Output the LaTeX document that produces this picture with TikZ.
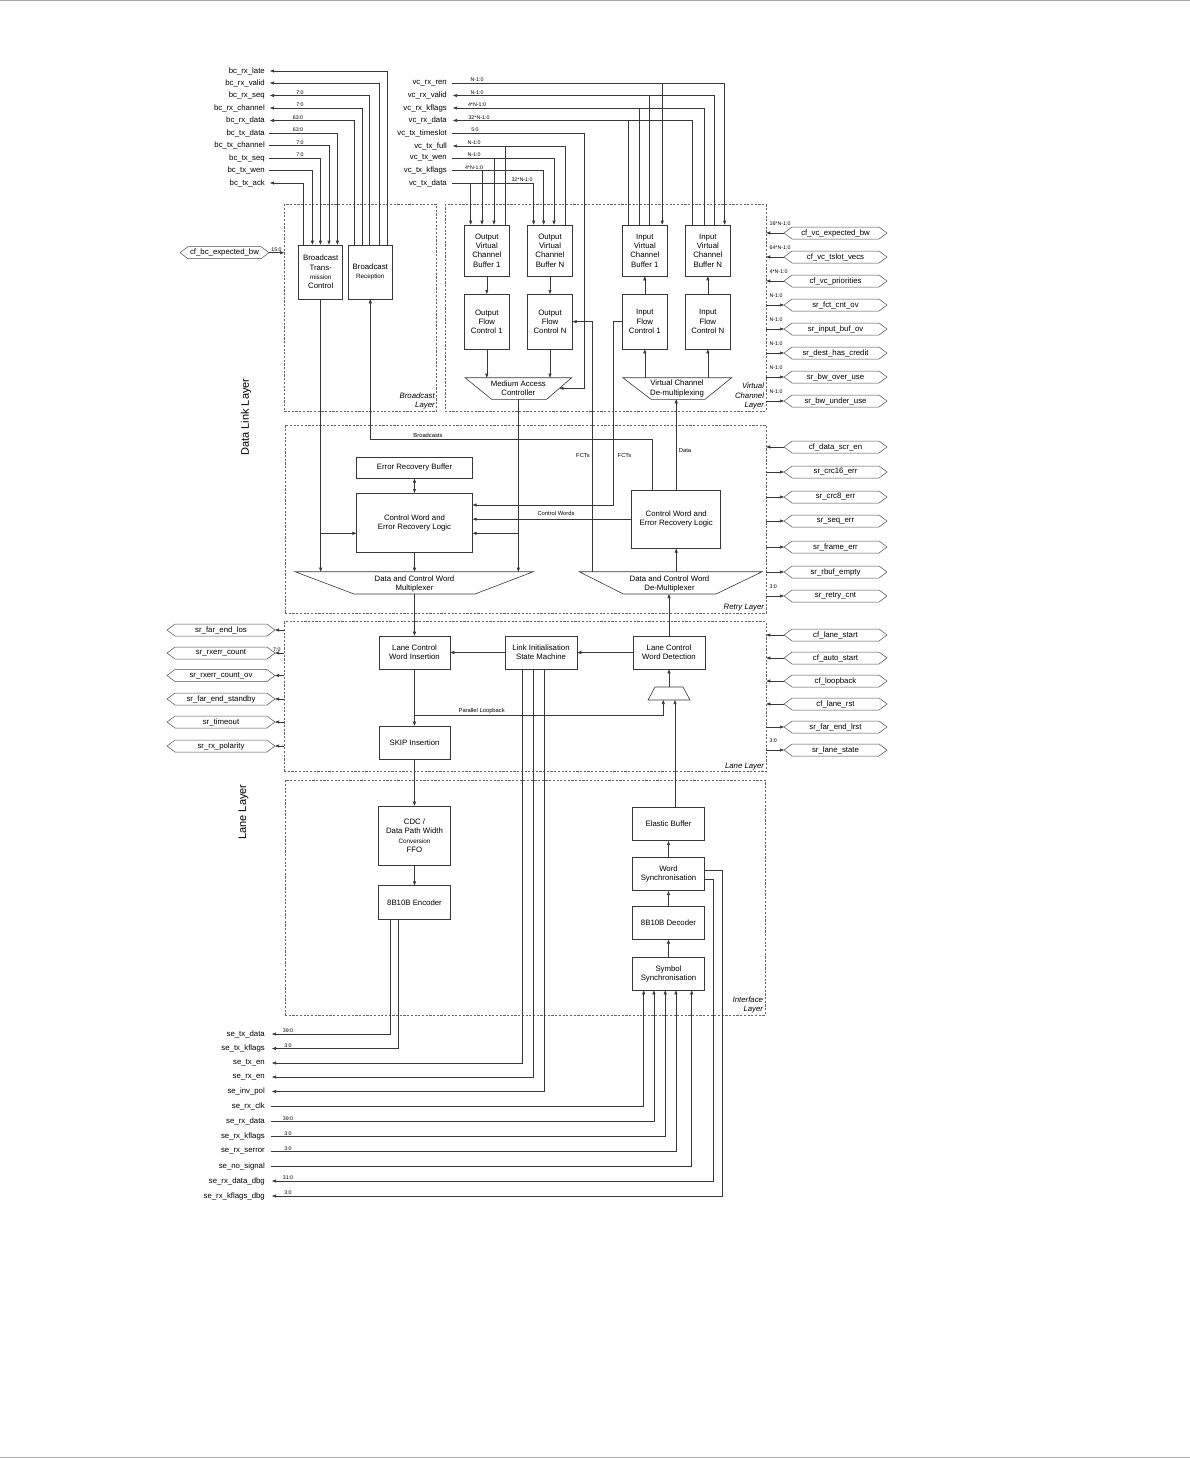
\documentclass[tikz,border=0pt]{standalone}
\usepackage{fontspec}
\setmainfont{Liberation Sans}
\usetikzlibrary{arrows.meta}
\newcommand\fsig{\fontsize{7.8}{9}\selectfont}
\newcommand\fblk{\fontsize{7.8}{9.3}\selectfont}
\newcommand\fsml{\fontsize{6.3}{8}\selectfont}
\newcommand\fbus{\fontsize{5.3}{6}\selectfont}
\newcommand\fnote{\fontsize{5.8}{7}\selectfont}
\tikzset{
  wire/.style={draw=black!78, line width=0.6pt},
  arr/.style={wire, -{Triangle[length=4pt,width=3pt]}},
  darr/.style={wire, {Triangle[length=4pt,width=3pt]}-{Triangle[length=4pt,width=3pt]}},
  blk/.style={draw=black!78, line width=0.6pt, fill=white, align=center, inner sep=0pt, font=\fblk},
  trap/.style={draw=black!78, line width=0.6pt, fill=white},
  ttext/.style={align=center, inner sep=0pt, font=\fblk},
  layer/.style={draw=black!60, line width=0.5pt, dash pattern=on 2.2pt off 1.5pt, inner sep=0pt},
  lyrlbl/.style={font=\fblk\itshape, align=right, anchor=south east, inner sep=2pt},
  sig/.style={font=\fsig, inner sep=0pt},
  hexs/.style={draw=black!70, line width=0.5pt, fill=white},
  bus/.style={font=\fbus, inner sep=0pt, anchor=south},
  busr/.style={font=\fbus, inner sep=0pt, anchor=south west},
  note/.style={font=\fnote, inner sep=0pt},
  frame/.style={draw=black!35, line width=1pt},
  side/.style={font=\fontsize{11}{13}\selectfont, rotate=90, inner sep=0pt},
}
\newcommand\boxat[6]{\node[#1, minimum width={#4-#2}, minimum height={#5-#3}] (#6) at ({(#2+#4)/2},{(#3+#5)/2})}
\newcommand\hexsig[5]{%
  \coordinate (#1-l) at ({#2-#4},#3);
  \coordinate (#1-r) at ({#2+#4},#3);
  \draw[hexs] (#1-l) -- ({#2-#4+8},{#3-6}) -- ({#2+#4-8},{#3-6}) -- (#1-r) -- ({#2+#4-8},{#3+6}) -- ({#2-#4+8},{#3+6}) -- cycle;
  \node[sig] (#1) at (#2,#3) {#5};}
% right-hand signals: name, y, text, bus label, layer
\newcommand\rin[5]{\hexsig{#1}{835.5}{#2}{51.5}{#3}%
  \draw[arr] (#1-l) -- (#1-l -| #5.east) node[busr, pos=1, xshift=3pt, yshift=7pt] (#1-b) {#4};}
\newcommand\rout[5]{\hexsig{#1}{835.5}{#2}{51.5}{#3}%
  \draw[arr] (#1-l -| #5.east) -- (#1-l) node[busr, pos=0, xshift=3pt, yshift=7pt] (#1-b) {#4};}
\newcommand\lout[4]{\hexsig{#1}{221}{#2}{54}{#3}%
  \draw[arr] (#1-r -| lnl.west) -- (#1-r) node[bus, pos=0.78, yshift=1pt] (#1-b) {#4};}
\newcommand\lbl[4]{\node[sig, anchor=east] (#1) at (#2,#3) {#4};}
\begin{document}
\begin{tikzpicture}[x=1pt,y=-1pt]
\useasboundingbox (0,0) rectangle (1190,1458);
\draw[frame] (0,1) -- (1190,1);
\draw[frame] (0,1457) -- (1190,1457);

% ---------- layers ----------
\boxat{layer}{284.3}{204.7}{436.7}{411}{bcl} {};
\boxat{layer}{445}{204.7}{766}{411}{vcl} {};
\boxat{layer}{285}{425}{766}{613.3}{rtl} {};
\boxat{layer}{284}{621.7}{766}{771.7}{lnl} {};
\boxat{layer}{285}{780}{765}{1015}{ifl} {};
\node[lyrlbl] (bcl-t) at (bcl.south east) {Broadcast\\Layer};
\node[lyrlbl] (vcl-t) at (vcl.south east) {Virtual\\Channel\\Layer};
\node[lyrlbl] (rtl-t) at (rtl.south east) {Retry Layer};
\node[lyrlbl] (lnl-t) at (lnl.south east) {Lane Layer};
\node[lyrlbl] (ifl-t) at (ifl.south east) {Interface\\Layer};
\node[side] (dll) at (246,417) {Data Link Layer};
\node[side] (lal) at (243.5,812) {Lane Layer};

% ---------- broadcast layer ----------
\boxat{blk}{298.7}{245}{342.7}{299}{btc} {Broadcast\\Trans-\\{\fsml mission}\\Control};
\boxat{blk}{348.3}{245}{392.3}{299}{br} {Broadcast\\{\fsml Reception}};

% ---------- VC layer ----------
\boxat{blk}{464.3}{225}{509.3}{276}{ovb1} {Output\\Virtual\\Channel\\Buffer 1};
\boxat{blk}{527.7}{225}{572.3}{276}{ovbn} {Output\\Virtual\\Channel\\Buffer N};
\boxat{blk}{622.3}{225}{667.3}{276}{ivb1} {Input\\Virtual\\Channel\\Buffer 1};
\boxat{blk}{685.7}{225}{730}{276}{ivbn} {Input\\Virtual\\Channel\\Buffer N};
\boxat{blk}{464.3}{294.3}{509.3}{349}{ofc1} {Output\\Flow\\Control 1};
\boxat{blk}{527.7}{294.3}{572.3}{349}{ofcn} {Output\\Flow\\Control N};
\boxat{blk}{622.3}{294.3}{667.3}{349}{ifc1} {Input\\Flow\\Control 1};
\boxat{blk}{685.7}{294.3}{730}{349}{ifcn} {Input\\Flow\\Control N};
\draw[trap] (465,377.7) -- (571.7,377.7) -- (546.7,399.3) -- (491.7,399.3) -- cycle;
\node[ttext] (mac) at (518.3,388.5) {Medium Access\\Controller};
\coordinate (mac-t) at (518.3,377.7);
\coordinate (mac-b) at (518.3,399.3);
\coordinate (mac-r) at (559.4,388.3);
\draw[trap] (622.7,377.7) -- (731.7,377.7) -- (705,399.3) -- (651,399.3) -- cycle;
\node[ttext] (vdm) at (677,388.5) {Virtual Channel\\De-multiplexing};
\coordinate (vdm-t) at (677,377.7);
\coordinate (vdm-b) at (676,399.3);
\draw[arr] (ovb1.south) -- (ofc1.north);
\draw[arr] (ovbn.south) -- (ofcn.north);
\draw[arr] (ifc1.north) -- (ivb1.south);
\draw[arr] (ifcn.north) -- (ivbn.south);
\draw[arr] (ofc1.south) -- (ofc1.south |- mac-t);
\draw[arr] (ofcn.south) -- (ofcn.south |- mac-t);
\draw[arr] (ifc1.south |- vdm-t) -- (ifc1.south);
\draw[arr] (ifcn.south |- vdm-t) -- (ifcn.south);

% ---------- retry layer ----------
\boxat{blk}{356.7}{457.3}{472.3}{478.3}{erb} {Error Recovery Buffer};
\boxat{blk}{356.7}{493.3}{472.3}{552.7}{cwl} {Control Word and\\Error Recovery Logic};
\boxat{blk}{631.7}{490}{720.7}{548.3}{cwr} {Control Word and\\Error Recovery Logic};
\draw[trap] (295,571.7) -- (533.3,571.7) -- (475,594) -- (354,594) -- cycle;
\node[ttext] (mux) at (414.5,584) {Data and Control Word\\Multiplexer};
\coordinate (mux-t) at (414.5,571.7);
\coordinate (mux-b) at (414.5,594);
\draw[trap] (579.3,571.7) -- (762.3,571.7) -- (716,594) -- (623.3,594) -- cycle;
\node[ttext] (dmx) at (669.5,584) {Data and Control Word\\De-Multiplexer};
\coordinate (dmx-t) at (669,571.7);
\coordinate (dmx-b) at (669,594);
\draw[darr] (erb.south) -- (cwl.north);
\draw[arr] (cwl.south) -- (cwl.south |- mux-t);
% broadcast transmission path
\coordinate (cwl-in3) at ([yshift=-10.3pt]cwl.west);
\draw[arr] (btc.south) -- (btc.south |- mux-t);
\draw[arr] (btc.south |- cwl-in3) -- (cwl-in3);
% MAC output path
\coordinate (cwl-in3r) at ([yshift=-10.3pt]cwl.east);
\draw[arr] (mac-b) -- (mac-b |- mux-t);
\draw[arr] (mac-b |- cwl-in3r) -- (cwl-in3r);
% FCTs from input flow control
\coordinate (cwl-in1) at ([yshift=18pt]cwl.east);
\coordinate (fct1) at (613.3,505);
\draw[arr] (ifc1.west) -| (fct1) -- (cwl-in1);
% control words
\draw[arr] (cwr.west) -- (cwr.west -| cwl.east);
% FCTs to output flow control
\coordinate (fct2) at (592.7,571.7);
\draw[arr] (fct2) |- (ofcn.east);
% broadcasts
\coordinate (bcw) at ([xshift=-23.5pt]cwr.north);
\draw[arr] (bcw) -- ++(0,-50.7) -| (br.south);
% data
\draw[arr] (cwr.north) -- (cwr.north |- vdm-b);
\draw[arr] (cwr.south |- dmx-t) -- (cwr.south);
\node[note] (n-bc) at (428,435.7) {Broadcasts};
\node[note] (n-fct1) at (583,455) {FCTs};
\node[note] (n-fct2) at (624.5,455) {FCTs};
\node[note] (n-data) at (685,450.7) {Data};
\node[note] (n-cw) at (556,513.3) {Control Words};

% ---------- lane layer ----------
\boxat{blk}{379}{636}{450}{669}{lcwi} {Lane Control\\Word Insertion};
\boxat{blk}{505}{636}{577}{669}{lism} {Link Initialisation\\State Machine};
\boxat{blk}{633}{636}{705}{669}{lcwd} {Lane Control\\Word Detection};
\boxat{blk}{379}{726}{450}{759}{skip} {SKIP Insertion};
\draw[trap] (655,687) -- (683,687) -- (690,700) -- (648,700) -- cycle;
\coordinate (smx-t) at (669,687);
\coordinate (lbe) at (663.3,700);
\coordinate (lbj) at (414.5,715);
\draw[arr] (lcwi.north |- mux-b) -- (lcwi.north);
\draw[arr] (lcwd.north) -- (lcwd.north |- dmx-b);
\draw[arr] (smx-t) -- (lcwd.south);
\draw[arr] (lcwd.west) -- (lism.east);
\draw[arr] (lism.west) -- (lcwi.east);
\draw[arr] (lcwi.south) -- (skip.north);
\draw[arr] (lbj) -| (lbe);
\node[note] (n-lb) at (481.7,711.3) {Parallel Loopback};

% ---------- interface layer ----------
\boxat{blk}{378.3}{806}{450.7}{865.7}{cdc} {CDC /\\Data Path Width\\{\fsml Conversion}\\FFO};
\boxat{blk}{378.3}{885.7}{450.7}{919}{enc} {8B10B Encoder};
\boxat{blk}{632.7}{807.3}{704.3}{840.7}{eb} {Elastic Buffer};
\boxat{blk}{632.7}{857.3}{704.3}{890.7}{ws} {Word\\Synchronisation};
\boxat{blk}{632.7}{906}{704.3}{939.3}{dec} {8B10B Decoder};
\boxat{blk}{632.7}{957.3}{704.3}{990}{ss} {Symbol\\Synchronisation};
\draw[arr] (skip.south) -- (cdc.north);
\draw[arr] (cdc.south) -- (enc.north);
\draw[arr] (ss.north) -- (dec.south);
\draw[arr] (dec.north) -- (ws.south);
\draw[arr] (ws.north) -- (eb.south);
\coordinate (ebo) at ([xshift=6.5pt]eb.north);
\draw[arr] (ebo) -- (ebo |- lbe);

% ---------- broadcast signals ----------
\lbl{bc1}{265}{71}{bc\_rx\_late}
\lbl{bc2}{265}{83}{bc\_rx\_valid}
\lbl{bc3}{265}{95.5}{bc\_rx\_seq}
\lbl{bc4}{265}{108}{bc\_rx\_channel}
\lbl{bc5}{265}{120.5}{bc\_rx\_data}
\lbl{bc6}{265}{133}{bc\_tx\_data}
\lbl{bc7}{265}{145.5}{bc\_tx\_channel}
\lbl{bc8}{265}{158}{bc\_tx\_seq}
\lbl{bc9}{265}{170.5}{bc\_tx\_wen}
\lbl{bc10}{265}{183}{bc\_tx\_ack}
\draw[arr] ([xshift=39pt]br.north west) |- ([xshift=5pt]bc1.east);
\draw[arr] ([xshift=31.7pt]br.north west) |- ([xshift=5pt]bc2.east);
\draw[arr] ([xshift=21.7pt]br.north west) |- ([xshift=5pt]bc3.east);
\draw[arr] ([xshift=14pt]br.north west) |- ([xshift=5pt]bc4.east);
\draw[arr] ([xshift=6.7pt]br.north west) |- ([xshift=5pt]bc5.east);
\draw[arr] ([xshift=4pt]bc6.east) -| ([xshift=39pt]btc.north west);
\draw[arr] ([xshift=4pt]bc7.east) -| ([xshift=30.6pt]btc.north west);
\draw[arr] ([xshift=4pt]bc8.east) -| ([xshift=22pt]btc.north west);
\draw[arr] ([xshift=4pt]bc9.east) -| ([xshift=14pt]btc.north west);
\draw[arr] ([xshift=4.6pt]btc.north west) |- ([xshift=5pt]bc10.east);
\node[bus] (bb1) at (300,94.3) {7:0};
\node[bus] (bb2) at (300,106.8) {7:0};
\node[bus] (bb3) at (298,119.3) {63:0};
\node[bus] (bb4) at (298,131.8) {63:0};
\node[bus] (bb5) at (300,144.3) {7:0};
\node[bus] (bb6) at (300,156.8) {7:0};
\hexsig{cfbc}{224.5}{252.7}{44.5}{cf\_bc\_expected\_bw}
\draw[arr] (cfbc-r) -- (cfbc-r -| bcl.west) node[bus, midway, yshift=1pt] (cfbc-b) {15:0};

% ---------- virtual channel signals ----------
\lbl{vc1}{447}{83}{vc\_rx\_ren}
\lbl{vc2}{447}{95.5}{vc\_rx\_valid}
\lbl{vc3}{447}{108}{vc\_rx\_kflags}
\lbl{vc4}{447}{120.5}{vc\_rx\_data}
\lbl{vc5}{447}{133}{vc\_tx\_timeslot}
\lbl{vc6}{447}{146}{vc\_tx\_full}
\lbl{vc7}{447}{158}{vc\_tx\_wen}
\lbl{vc8}{447}{170.5}{vc\_tx\_kflags}
\lbl{vc9}{447}{183}{vc\_tx\_data}
% rx_ren (in, to both input buffers)
\coordinate (rr1) at ([xshift=40.2pt]ivb1.north west);
\draw[arr] ([xshift=5pt]vc1.east) -| ([xshift=39.3pt]ivbn.north west);
\draw[arr] (rr1 |- vc1.east) -- (rr1);
% rx_valid
\coordinate (rv1) at ([xshift=27.7pt]ivb1.north west);
\draw[arr] ([xshift=29.3pt]ivbn.north west) |- ([xshift=6pt]vc2.east);
\draw[wire] (rv1) -- (rv1 |- vc2.east);
% rx_kflags
\coordinate (rk1) at ([xshift=17.7pt]ivb1.north west);
\draw[arr] ([xshift=18.6pt]ivbn.north west) |- ([xshift=6pt]vc3.east);
\draw[wire] (rk1) -- (rk1 |- vc3.east);
% rx_data
\coordinate (rd1) at ([xshift=6.4pt]ivb1.north west);
\draw[arr] ([xshift=7pt]ivbn.north west) |- ([xshift=6pt]vc4.east);
\draw[wire] (rd1) -- (rd1 |- vc4.east);
% tx_timeslot
\coordinate (tsc) at (584.7,388.3);
\draw[arr] ([xshift=5pt]vc5.east) -| (tsc) -- (mac-r);
% tx_full
\coordinate (tf1) at ([xshift=41.4pt]ovb1.north west);
\draw[arr] ([xshift=38pt]ovbn.north west) |- ([xshift=6pt]vc6.east);
\draw[wire] (tf1) -- (tf1 |- vc6.east);
% tx_wen
\coordinate (tw1) at ([xshift=30pt]ovb1.north west);
\draw[arr] ([xshift=5pt]vc7.east) -| ([xshift=26.6pt]ovbn.north west);
\draw[arr] (tw1 |- vc7.east) -- (tw1);
% tx_kflags
\coordinate (tk1) at ([xshift=18pt]ovb1.north west);
\draw[arr] ([xshift=5pt]vc8.east) -| ([xshift=16.3pt]ovbn.north west);
\draw[arr] (tk1 |- vc8.east) -- (tk1);
% tx_data
\coordinate (td1) at ([xshift=6.7pt]ovb1.north west);
\draw[arr] ([xshift=5pt]vc9.east) -| ([xshift=6.3pt]ovbn.north west);
\draw[arr] (td1 |- vc9.east) -- (td1);
\node[bus] (vb1) at (477,81.8) {N-1:0};
\node[bus] (vb2) at (477,94.3) {N-1:0};
\node[bus] (vb3) at (477,106.8) {4*N-1:0};
\node[bus] (vb4) at (479,119.3) {32*N-1:0};
\node[bus] (vb5) at (475,131.8) {5:0};
\node[bus] (vb6) at (474,144.8) {N-1:0};
\node[bus] (vb7) at (474,156.8) {N-1:0};
\node[bus] (vb8) at (474,169.3) {4*N-1:0};
\node[bus] (vb9) at (522,181.8) {32*N-1:0};

% ---------- right-hand signals ----------
\rin{cvb}{233}{cf\_vc\_expected\_bw}{16*N-1:0}{vcl}
\rin{cvt}{257}{cf\_vc\_tslot\_vecs}{64*N-1:0}{vcl}
\rin{cvp}{281}{cf\_vc\_priorities}{4*N-1:0}{vcl}
\rout{sfc}{305}{sr\_fct\_cnt\_ov}{N-1:0}{vcl}
\rout{sib}{329}{sr\_input\_buf\_ov}{N-1:0}{vcl}
\rout{sdh}{353}{sr\_dest\_has\_credit}{N-1:0}{vcl}
\rout{sbo}{377}{sr\_bw\_over\_use}{N-1:0}{vcl}
\rout{sbu}{401}{sr\_bw\_under\_use}{N-1:0}{vcl}
\rin{cds}{447}{cf\_data\_scr\_en}{}{rtl}
\rout{sc16}{472}{sr\_crc16\_err}{}{rtl}
\rout{sc8}{497}{sr\_crc8\_err}{}{rtl}
\rout{sse}{521}{sr\_seq\_err}{}{rtl}
\rout{sfe}{547}{sr\_frame\_err}{}{rtl}
\rout{srb}{572}{sr\_rbuf\_empty}{}{rtl}
\rout{src}{596}{sr\_retry\_cnt}{3:0}{rtl}
\rin{cls}{635}{cf\_lane\_start}{}{lnl}
\rin{cas}{658}{cf\_auto\_start}{}{lnl}
\rin{clb}{681}{cf\_loopback}{}{lnl}
\rin{clr}{704}{cf\_lane\_rst}{}{lnl}
\rout{sfl}{727}{sr\_far\_end\_lrst}{}{lnl}
\rout{sls}{750}{sr\_lane\_state}{3:0}{lnl}

% ---------- left lane signals ----------
\lout{sfel}{630}{sr\_far\_end\_los}{}
\lout{srec}{653}{sr\_rxerr\_count}{7:0}
\lout{sreo}{675.5}{sr\_rxerr\_count\_ov}{}
\lout{sfes}{699}{sr\_far\_end\_standby}{}
\lout{sto}{722}{sr\_timeout}{}
\lout{srp}{746}{sr\_rx\_polarity}{}

% ---------- serial interface signals ----------
\lbl{se1}{265}{1034}{se\_tx\_data}
\lbl{se2}{265}{1048.5}{se\_tx\_kflags}
\lbl{se3}{265}{1063}{se\_tx\_en}
\lbl{se4}{265}{1077}{se\_rx\_en}
\lbl{se5}{265}{1091.5}{se\_inv\_pol}
\lbl{se6}{265}{1106.5}{se\_rx\_clk}
\lbl{se7}{265}{1121.5}{se\_rx\_data}
\lbl{se8}{265}{1136.5}{se\_rx\_kflags}
\lbl{se9}{265}{1151.5}{se\_rx\_serror}
\lbl{se10}{265}{1166}{se\_no\_signal}
\lbl{se11}{265}{1181}{se\_rx\_data\_dbg}
\lbl{se12}{265}{1196}{se\_rx\_kflags\_dbg}
\draw[arr] ([xshift=12.7pt]enc.south west) |- ([xshift=7pt]se1.east);
\draw[arr] ([xshift=20.7pt]enc.south west) |- ([xshift=7pt]se2.east);
\draw[arr] ([xshift=18pt]lism.south west) |- ([xshift=7pt]se3.east);
\draw[arr] ([xshift=28.3pt]lism.south west) |- ([xshift=7pt]se4.east);
\draw[arr] ([xshift=39.7pt]lism.south west) |- ([xshift=7pt]se5.east);
\draw[arr] ([xshift=6pt]se6.east) -| ([xshift=11.3pt]ss.south west);
\draw[arr] ([xshift=6pt]se7.east) -| ([xshift=21.5pt]ss.south west);
\draw[arr] ([xshift=6pt]se8.east) -| ([xshift=32.8pt]ss.south west);
\draw[arr] ([xshift=6pt]se9.east) -| ([xshift=43.5pt]ss.south west);
\draw[arr] ([xshift=6pt]se10.east) -| ([xshift=59.3pt]ss.south west);
\coordinate (wsd) at (713.3,1000);
\coordinate (wsk) at (722.3,1000);
\draw[arr] ([yshift=-5.3pt]ws.east) -| (wsd) |- ([xshift=7pt]se11.east);
\draw[arr] ([yshift=4pt]ws.east) -| (wsk) |- ([xshift=7pt]se12.east);
\node[bus] (sb1) at (288,1033) {39:0};
\node[bus] (sb2) at (288,1047.5) {3:0};
\node[bus] (sb7) at (288,1120.5) {39:0};
\node[bus] (sb8) at (288,1135.5) {3:0};
\node[bus] (sb9) at (288,1150.5) {3:0};
\node[bus] (sb11) at (288,1180) {31:0};
\node[bus] (sb12) at (288,1195) {3:0};
\end{tikzpicture}
\end{document}
